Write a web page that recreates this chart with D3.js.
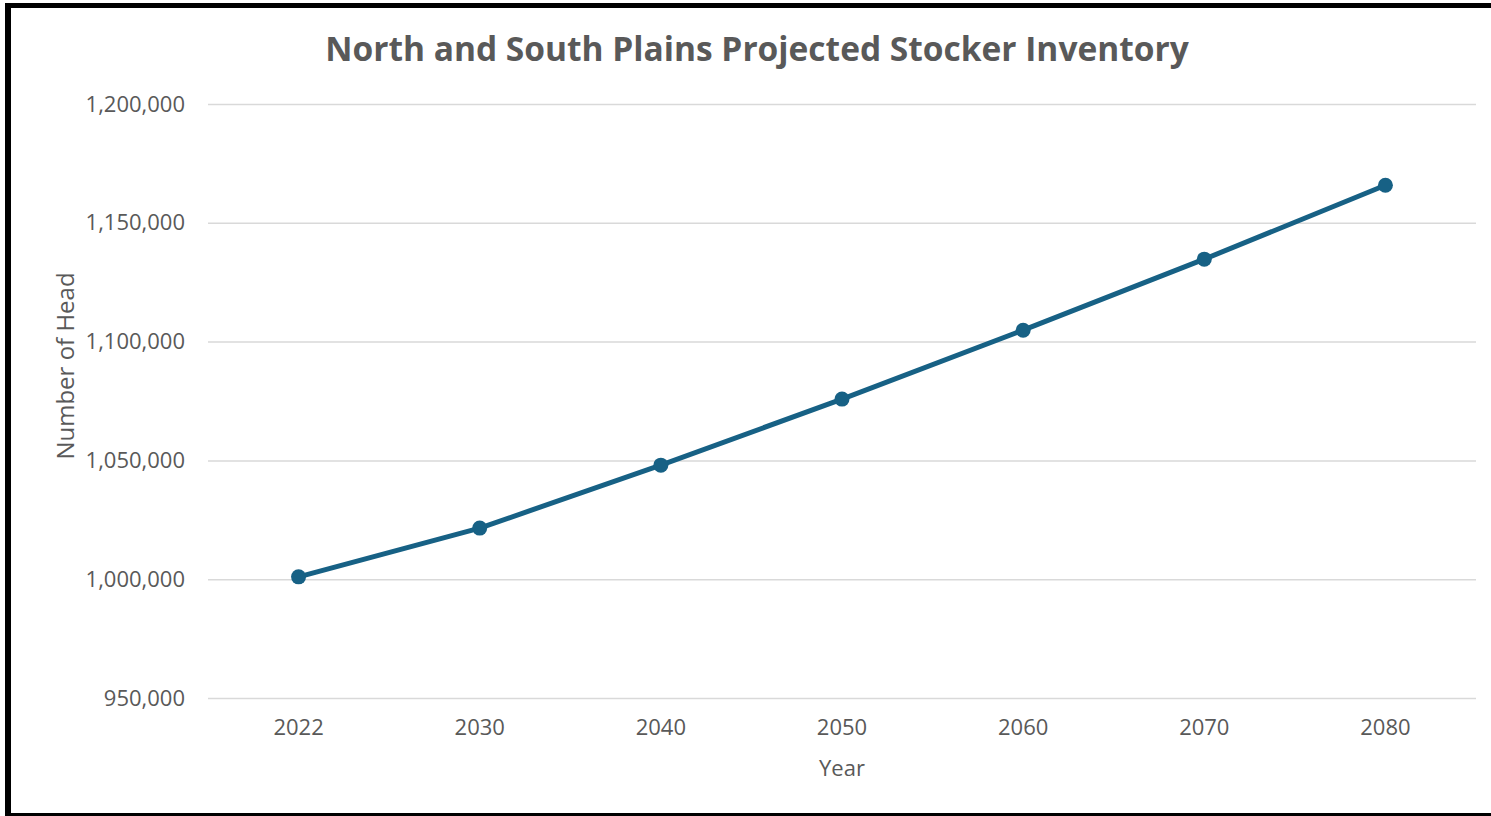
<!DOCTYPE html>
<html>
<head>
<meta charset="utf-8">
<script src="https://cdn.jsdelivr.net/npm/d3@7"></script>
<style>
  body { margin: 0; background: #fff; }
  text { font-family: "Open Sans", "Liberation Sans", sans-serif; fill: #595959; }
</style>
</head>
<body>
<div id="chart"></div>
<script>
// chart data
var years = ["2022", "2030", "2040", "2050", "2060", "2070", "2080"];
var inventory = [1001000, 1021500, 1048000, 1075800, 1104800, 1134700, 1165800];
var yTicks = [950000, 1000000, 1050000, 1100000, 1150000, 1200000];

var W = 1491, H = 816;
var margin = {top: 104, right: 15, bottom: 118, left: 208},
    width = W - margin.left - margin.right,
    height = H - margin.top - margin.bottom;

var svg = d3.select("#chart").append("svg")
    .attr("width", W)
    .attr("height", H);

// black frame (left, top, bottom)
svg.append("rect").attr("x", 5).attr("y", 3).attr("width", 6).attr("height", H - 3).attr("fill", "#000");
svg.append("rect").attr("x", 5).attr("y", 3).attr("width", W - 5).attr("height", 5).attr("fill", "#000");
svg.append("rect").attr("x", 5).attr("y", 813).attr("width", W - 5).attr("height", 3).attr("fill", "#000");

var g = svg.append("g")
    .attr("transform", "translate(" + margin.left + "," + margin.top + ")");

// scales
var x = d3.scaleBand().domain(years).range([0, width]);
var y = d3.scaleLinear().domain([950000, 1200000]).range([height, 0]);

// gridlines
g.append("g")
    .call(d3.axisLeft(y).tickValues(yTicks).tickSize(-width).tickFormat(""))
    .call(function(a) {
      a.select(".domain").remove();
      a.selectAll("line").attr("stroke", "#d9d9d9").attr("stroke-width", 1.5);
    });

// y axis labels
g.append("g")
    .call(d3.axisLeft(y).tickValues(yTicks).tickSize(0).tickPadding(23).tickFormat(d3.format(",")))
    .call(function(a) {
      a.select(".domain").remove();
      a.selectAll("text").style("font-size", "22px").attr("fill", "#595959");
    });

// x axis labels
g.append("g")
    .attr("transform", "translate(0," + height + ")")
    .call(d3.axisBottom(x).tickSize(0).tickPadding(21))
    .call(function(a) {
      a.select(".domain").remove();
      a.selectAll("text").style("font-size", "22px").attr("fill", "#595959");
    });

// line
var line = d3.line()
    .x(function(d, i) { return x(years[i]) + x.bandwidth() / 2; })
    .y(function(d) { return y(d); });

g.append("path")
    .datum(inventory)
    .attr("fill", "none")
    .attr("stroke", "#176185")
    .attr("stroke-width", 5)
    .attr("stroke-linejoin", "round")
    .attr("d", line);

g.selectAll("circle.pt")
    .data(inventory)
    .enter().append("circle")
    .attr("class", "pt")
    .attr("cx", function(d, i) { return x(years[i]) + x.bandwidth() / 2; })
    .attr("cy", function(d) { return y(d); })
    .attr("r", 7.5)
    .attr("fill", "#176185");

// title
svg.append("text")
    .attr("x", 757)
    .attr("y", 61)
    .attr("text-anchor", "middle")
    .style("font-size", "33.5px")
    .style("font-weight", "bold")
    .text("North and South Plains Projected Stocker Inventory");

// axis titles
svg.append("text")
    .attr("x", margin.left + width / 2)
    .attr("y", 776)
    .attr("text-anchor", "middle")
    .style("font-size", "22px")
    .text("Year");

svg.append("text")
    .attr("transform", "translate(74,366) rotate(-90)")
    .attr("text-anchor", "middle")
    .style("font-size", "24px")
    .text("Number of Head");
</script>
</body>
</html>
